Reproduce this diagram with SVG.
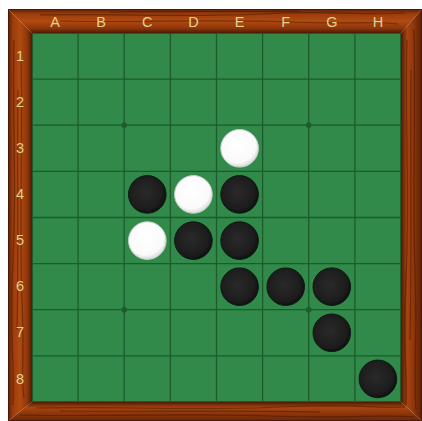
<svg xmlns="http://www.w3.org/2000/svg" width="422" height="421" viewBox="0 0 422 421">
<defs>
<linearGradient id="woodT" x1="0" y1="0" x2="0" y2="1">
<stop offset="0" stop-color="#5a1e06"/>
<stop offset="0.2" stop-color="#9a3c0c"/>
<stop offset="0.5" stop-color="#b04a10"/>
<stop offset="0.8" stop-color="#8e360b"/>
<stop offset="1" stop-color="#4e1a05"/>
</linearGradient>
<linearGradient id="woodL" x1="0" y1="0" x2="1" y2="0">
<stop offset="0" stop-color="#5a1e06"/>
<stop offset="0.2" stop-color="#9a3c0c"/>
<stop offset="0.5" stop-color="#b04a10"/>
<stop offset="0.8" stop-color="#8e360b"/>
<stop offset="1" stop-color="#4e1a05"/>
</linearGradient>
<linearGradient id="woodB" x1="0" y1="0" x2="0" y2="1">
<stop offset="0" stop-color="#4e1a05"/>
<stop offset="0.3" stop-color="#a8440f"/>
<stop offset="0.6" stop-color="#8e360b"/>
<stop offset="1" stop-color="#6a2608"/>
</linearGradient>
<linearGradient id="woodR" x1="0" y1="0" x2="1" y2="0">
<stop offset="0" stop-color="#4e1a05"/>
<stop offset="0.3" stop-color="#a8440f"/>
<stop offset="0.6" stop-color="#8e360b"/>
<stop offset="1" stop-color="#5a2006"/>
</linearGradient>
<radialGradient id="black" cx="0.45" cy="0.45" r="0.6">
<stop offset="0" stop-color="#2a2a2a"/>
<stop offset="0.75" stop-color="#1c1c1c"/>
<stop offset="1" stop-color="#0a0a0a"/>
</radialGradient>
<radialGradient id="white" cx="0.45" cy="0.4" r="0.6">
<stop offset="0" stop-color="#ffffff"/>
<stop offset="0.8" stop-color="#fafafa"/>
<stop offset="1" stop-color="#d8d8d8"/>
</radialGradient>
<style>
.lbl{font-family:"Liberation Sans",Arial,sans-serif;font-size:14.5px;fill:#e2d18e;text-anchor:middle}
.grid line{stroke:#1d5a2c;stroke-width:1.3}
.b{fill:url(#black);stroke:#0c1a10;stroke-width:1}
.w{fill:url(#white);stroke:#c9d2cb;stroke-width:1}
.star{fill:#1d5a2c}
.streak{fill:none;stroke:#3a1203;stroke-opacity:0.45;stroke-width:1.2}
</style>
</defs>
<rect x="0" y="0" width="422" height="421" fill="#ffffff"/>
<g id="frame">
<polygon points="8,9 422,9 401,33 32,33" fill="url(#woodT)"/>
<polygon points="8,421 422,421 401,402 32,402" fill="url(#woodB)"/>
<polygon points="8,9 32,33 32,402 8,421" fill="url(#woodL)"/>
<polygon points="422,9 401,33 401,402 422,421" fill="url(#woodR)"/>
<path class="streak" d="M40,15 C120,13 180,18 260,14 S360,16 405,13 M60,21 C140,23 200,19 290,22 S370,20 398,24 M110,12 C170,11 230,12 300,11"/>
<path class="streak" d="M36,408 C120,406 200,411 280,407 S370,409 405,407 M20,415 C100,417 190,413 270,416 S380,414 415,417 M60,411 C150,412 230,410 320,412"/>
<path class="streak" d="M14,40 C12,120 17,180 13,260 S15,360 13,405 M21,60 C23,140 19,220 22,300 S20,370 24,398 M18,90 C17,160 19,240 17,330"/>
<path class="streak" d="M407,40 C405,120 410,200 406,280 S408,370 406,405 M414,30 C416,110 412,190 415,270 S413,360 416,410 M411,70 C410,160 412,250 410,340"/>
<rect x="8.5" y="9.5" width="413" height="411" fill="none" stroke="#4a1804" stroke-width="1"/>
</g>
<g id="board">
<rect x="32" y="33" width="369" height="369" fill="#318a4a"/>
<g class="grid">
<line x1="78.1" y1="33" x2="78.1" y2="402"/>
<line x1="124.2" y1="33" x2="124.2" y2="402"/>
<line x1="170.4" y1="33" x2="170.4" y2="402"/>
<line x1="216.5" y1="33" x2="216.5" y2="402"/>
<line x1="262.6" y1="33" x2="262.6" y2="402"/>
<line x1="308.7" y1="33" x2="308.7" y2="402"/>
<line x1="354.9" y1="33" x2="354.9" y2="402"/>
<line x1="32" y1="79.1" x2="401" y2="79.1"/>
<line x1="32" y1="125.2" x2="401" y2="125.2"/>
<line x1="32" y1="171.4" x2="401" y2="171.4"/>
<line x1="32" y1="217.5" x2="401" y2="217.5"/>
<line x1="32" y1="263.6" x2="401" y2="263.6"/>
<line x1="32" y1="309.7" x2="401" y2="309.7"/>
<line x1="32" y1="355.9" x2="401" y2="355.9"/>
<rect x="32.5" y="33.5" width="368" height="368" fill="none" stroke="#1d5a2c" stroke-width="1"/>
</g>
<circle class="star" cx="124.2" cy="125.2" r="2.8"/>
<circle class="star" cx="308.7" cy="125.2" r="2.8"/>
<circle class="star" cx="124.2" cy="309.7" r="2.8"/>
<circle class="star" cx="308.7" cy="309.7" r="2.8"/>
</g>
<g id="labels">
<text class="lbl" x="55.1" y="27">A</text>
<text class="lbl" x="101.2" y="27">B</text>
<text class="lbl" x="147.3" y="27">C</text>
<text class="lbl" x="193.4" y="27">D</text>
<text class="lbl" x="239.6" y="27">E</text>
<text class="lbl" x="285.7" y="27">F</text>
<text class="lbl" x="331.8" y="27">G</text>
<text class="lbl" x="377.9" y="27">H</text>
<text class="lbl" x="20" y="61">1</text>
<text class="lbl" x="20" y="107">2</text>
<text class="lbl" x="20" y="153">3</text>
<text class="lbl" x="20" y="199">4</text>
<text class="lbl" x="20" y="245">5</text>
<text class="lbl" x="20" y="291">6</text>
<text class="lbl" x="20" y="337">7</text>
<text class="lbl" x="20" y="384">8</text>
</g>
<g id="pieces">
<circle id="E3" class="w" cx="239.6" cy="148.3" r="18.8"/>
<circle id="C4" class="b" cx="147.3" cy="194.4" r="18.8"/>
<circle id="D4" class="w" cx="193.4" cy="194.4" r="18.8"/>
<circle id="E4" class="b" cx="239.6" cy="194.4" r="18.8"/>
<circle id="C5" class="w" cx="147.3" cy="240.6" r="18.8"/>
<circle id="D5" class="b" cx="193.4" cy="240.6" r="18.8"/>
<circle id="E5" class="b" cx="239.6" cy="240.6" r="18.8"/>
<circle id="E6" class="b" cx="239.6" cy="286.7" r="18.8"/>
<circle id="F6" class="b" cx="285.7" cy="286.7" r="18.8"/>
<circle id="G6" class="b" cx="331.8" cy="286.7" r="18.8"/>
<circle id="G7" class="b" cx="331.8" cy="332.8" r="18.8"/>
<circle id="H8" class="b" cx="377.9" cy="378.9" r="18.8"/>
</g>
</svg>
